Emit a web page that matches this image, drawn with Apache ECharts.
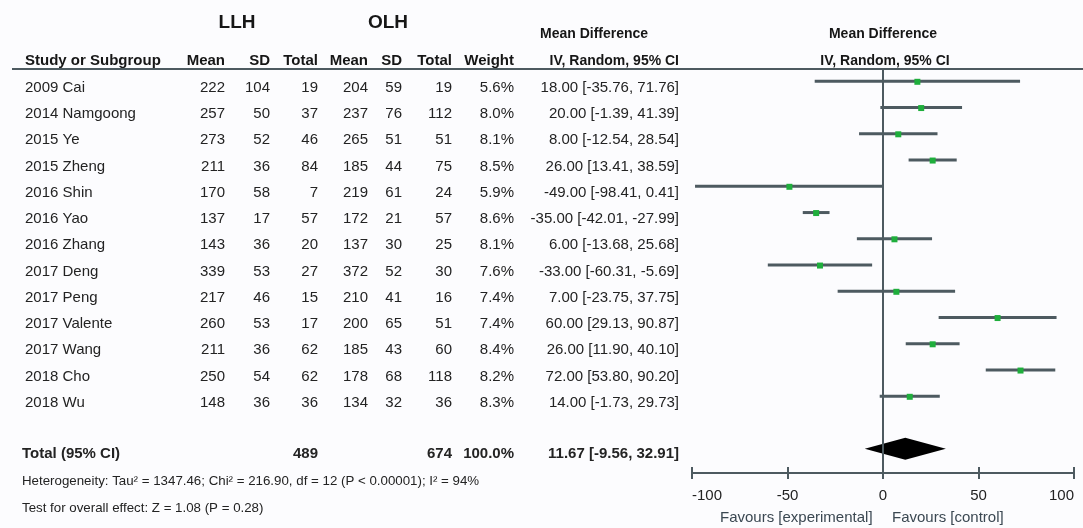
<!DOCTYPE html>
<html><head><meta charset="utf-8">
<script src="https://cdn.jsdelivr.net/npm/echarts@6/dist/echarts.min.js"></script>
<style>html,body{margin:0;padding:0;background:#fcfcfe}#c{width:1083px;height:528px}</style>
</head><body><div id="c"></div>
<script>
// ---- data ----
const studies = ['2009 Cai','2014 Namgoong','2015 Ye','2015 Zheng','2016 Shin','2016 Yao','2016 Zhang','2017 Deng','2017 Peng','2017 Valente','2017 Wang','2018 Cho','2018 Wu'];
const llhMean  = [222,257,273,211,170,137,143,339,217,260,211,250,148];
const llhSD    = [104,50,52,36,58,17,36,53,46,53,36,54,36];
const llhTotal = [19,37,46,84,7,57,20,27,15,17,62,62,36];
const olhMean  = [204,237,265,185,219,172,137,372,210,200,185,178,134];
const olhSD    = [59,76,51,44,61,21,30,52,41,65,43,68,32];
const olhTotal = [19,112,51,75,24,57,25,30,16,51,60,118,36];
const weights  = ['5.6%','8.0%','8.1%','8.5%','5.9%','8.6%','8.1%','7.6%','7.4%','7.4%','8.4%','8.2%','8.3%'];
const md       = [18.00,20.00,8.00,26.00,-49.00,-35.00,6.00,-33.00,7.00,60.00,26.00,72.00,14.00];
const ciLow    = [-35.76,-1.39,-12.54,13.41,-98.41,-42.01,-13.68,-60.31,-23.75,29.13,11.90,53.80,-1.73];
const ciHigh   = [71.76,41.39,28.54,38.59,0.41,-27.99,25.68,-5.69,37.75,90.87,40.10,90.20,29.73];
const totalLLH = 489, totalOLH = 674, totalWeight = '100.0%';
const totalMD = 11.67, totalLow = -9.56, totalHigh = 32.91;
const xTicks = [-100,-50,0,50,100];
const heterogeneity = 'Heterogeneity: Tau² = 1347.46; Chi² = 216.90, df = 12 (P < 0.00001); I² = 94%';
const overallTest = 'Test for overall effect: Z = 1.08 (P = 0.28)';

// ---- layout / style ----
const FONT = '"Liberation Sans", Arial, sans-serif';
const LINE = '#4d5a60';
const TXT = '#232323';
const HDR = '#161616';
const COLS = {study:25, llhMean:225, llhSD:270, llhTotal:318, olhMean:368, olhSD:402, olhTotal:452, weight:514, ci:679};
const GRID_TOP = 69, GRID_BOTTOM_PX = 473;
const TEXT_DY = 6.5;
const TOTAL_ROW = 14;
const fmt = v => v.toFixed(2);
const ciText = (m,l,h) => `${fmt(m)} [${fmt(l)}, ${fmt(h)}]`;

function T(x, y, s, align, weight, size, color) {
  return {type:'text', style:{x:x, y:y, text:String(s), textAlign:align, verticalAlign:'middle', textVerticalAlign:'middle',
    fontFamily:FONT, fontSize:size||15, fontWeight:weight||'normal', fill:color||TXT}};
}

const chart = echarts.init(document.getElementById('c'), null, {renderer:'canvas'});
const option = {
  backgroundColor:'#fcfcfe',
  animation:false,
  grid:{left:692, right:9, top:GRID_TOP, bottom:528-GRID_BOTTOM_PX, containLabel:false},
  xAxis:[
    {type:'value', min:xTicks[0], max:xTicks[xTicks.length-1], interval:50, position:'bottom',
     axisLine:{show:true, onZero:false, lineStyle:{color:LINE, width:2}},
     axisTick:{show:true, length:6, lineStyle:{color:LINE, width:2}},
     axisLabel:{fontFamily:FONT, fontSize:15, color:TXT, margin:15, alignMinLabel:'left', alignMaxLabel:'right'},
     splitLine:{show:false}},
    {type:'value', min:xTicks[0], max:xTicks[xTicks.length-1], interval:50, position:'top',
     offset:-(GRID_BOTTOM_PX-GRID_TOP),
     axisLine:{show:false, onZero:false}, axisTick:{show:true, inside:false, length:6, lineStyle:{color:LINE, width:2}},
     axisLabel:{show:false}, splitLine:{show:false}}
  ],
  yAxis:{type:'value', inverse:true, min:-0.4686, max:14.922, show:false},
  graphic:[
    {type:'line', shape:{x1:12, y1:69, x2:1083, y2:69}, style:{stroke:LINE, lineWidth:2}, z:10},
    T(237, 23, 'LLH', 'center', 'bold', 19, HDR),
    T(388, 23, 'OLH', 'center', 'bold', 19, HDR),
    T(540, 34, 'Mean Difference', 'left', 'bold', 14, HDR),
    T(883, 34, 'Mean Difference', 'center', 'bold', 14, HDR),
    T(COLS.study, 61, 'Study or Subgroup', 'left', 'bold', 15, HDR),
    T(COLS.llhMean, 61, 'Mean', 'right', 'bold', 15, HDR),
    T(COLS.llhSD, 61, 'SD', 'right', 'bold', 15, HDR),
    T(COLS.llhTotal, 61, 'Total', 'right', 'bold', 15, HDR),
    T(COLS.olhMean, 61, 'Mean', 'right', 'bold', 15, HDR),
    T(COLS.olhSD, 61, 'SD', 'right', 'bold', 15, HDR),
    T(COLS.olhTotal, 61, 'Total', 'right', 'bold', 15, HDR),
    T(COLS.weight, 61, 'Weight', 'right', 'bold', 15, HDR),
    T(COLS.ci, 61, 'IV, Random, 95% CI', 'right', 'bold', 14, HDR),
    T(885, 61, 'IV, Random, 95% CI', 'center', 'bold', 14, HDR),
    T(22, 481, heterogeneity, 'left', 'normal', 13.3, TXT),
    T(22, 508, overallTest, 'left', 'normal', 13.3, TXT),
    T(720, 518, 'Favours [experimental]', 'left', 'normal', 15, '#3b4852'),
    T(892, 518, 'Favours [control]', 'left', 'normal', 15, '#3b4852')
  ],
  series:[
    { // table rows
      type:'custom', clip:false, silent:true,
      data: studies.map((s,i)=>[0,i]),
      renderItem:(params, api)=>{
        const i = api.value(1);
        const y = api.coord([0,i])[1] + TEXT_DY;
        return {type:'group', children:[
          T(COLS.study, y, studies[i], 'left'),
          T(COLS.llhMean, y, llhMean[i], 'right'),
          T(COLS.llhSD, y, llhSD[i], 'right'),
          T(COLS.llhTotal, y, llhTotal[i], 'right'),
          T(COLS.olhMean, y, olhMean[i], 'right'),
          T(COLS.olhSD, y, olhSD[i], 'right'),
          T(COLS.olhTotal, y, olhTotal[i], 'right'),
          T(COLS.weight, y, weights[i], 'right'),
          T(COLS.ci, y, ciText(md[i], ciLow[i], ciHigh[i]), 'right')
        ]};
      }
    },
    { // total row text
      type:'custom', clip:false, silent:true,
      data:[[0,TOTAL_ROW]],
      renderItem:(params, api)=>{
        const y = api.coord([0, api.value(1)])[1] + TEXT_DY - 1.5;
        return {type:'group', children:[
          T(COLS.study-3, y, 'Total (95% CI)', 'left', 'bold'),
          T(COLS.llhTotal, y, totalLLH, 'right', 'bold'),
          T(COLS.olhTotal, y, totalOLH, 'right', 'bold'),
          T(COLS.weight, y, totalWeight, 'right', 'bold'),
          T(COLS.ci, y, ciText(totalMD, totalLow, totalHigh), 'right', 'bold')
        ]};
      }
    },
    { // CI lines + point estimates
      type:'custom', clip:false,
      data: studies.map((s,i)=>[ciLow[i], ciHigh[i], md[i], i]),
      encode:{x:[0,1,2], y:3},
      renderItem:(params, api)=>{
        const r = api.value(3);
        const p1 = api.coord([api.value(0), r]);
        const p2 = api.coord([api.value(1), r]);
        const pm = api.coord([api.value(2), r]);
        return {type:'group', children:[
          {type:'line', shape:{x1:p1[0], y1:p1[1], x2:p2[0], y2:p2[1]}, style:{stroke:LINE, lineWidth:3}},
          {type:'rect', shape:{x:pm[0]-3, y:pm[1]-2.5, width:6, height:6}, style:{fill:'#1fae3c'}}
        ]};
      },
      markLine:{silent:true, symbol:'none', label:{show:false}, animation:false,
        lineStyle:{color:LINE, width:2, type:'solid'}, data:[{xAxis:0}]}
    },
    { // pooled diamond
      type:'custom', clip:false,
      data:[[totalLow, totalHigh, totalMD, TOTAL_ROW]],
      encode:{x:[0,1,2], y:3},
      renderItem:(params, api)=>{
        const r = api.value(3);
        const a = api.coord([api.value(0), r]);
        const b = api.coord([api.value(2), r - 0.42]);
        const c = api.coord([api.value(1), r]);
        const d = api.coord([api.value(2), r + 0.42]);
        return {type:'polygon', shape:{points:[a,b,c,d]}, style:{fill:'#000'}, z2:5};
      }
    }
  ]
};
chart.setOption(option);
</script></body></html>
